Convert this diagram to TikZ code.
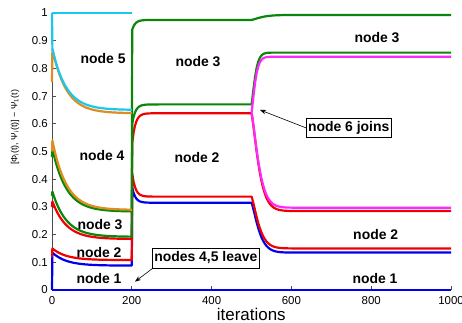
\documentclass[tikz,border=0pt]{standalone}
\usepackage{fontspec}
\setmainfont{Liberation Sans}
\usetikzlibrary{arrows.meta}

\definecolor{trblue}{RGB}{0,0,235}
\definecolor{trred}{RGB}{240,0,0}
\definecolor{trgreen}{RGB}{10,135,10}
\definecolor{trorange}{RGB}{225,140,30}
\definecolor{trcyan}{RGB}{25,200,240}
\definecolor{trmagenta}{RGB}{255,40,255}

\begin{document}
\begin{tikzpicture}[x=0.399bp,y=277bp,
    curve/.style={line width=2.2bp,line join=round},
    axisline/.style={line width=0.7bp,black!70},
    nodelabel/.style={font=\fontsize{14}{16}\selectfont\bfseries,inner sep=0},
    eventbox/.style={draw,fill=white,line width=0.7bp,font=\fontsize{14}{16}\selectfont\bfseries,inner xsep=1.5bp,inner ysep=2.5bp,text height=10.5bp,text depth=4bp},
    callout/.style={line width=0.6bp,-{Stealth[length=6bp,width=4.5bp]}},
    ticklabel/.style={font=\fontsize{11.5}{13}\selectfont,inner sep=0}]
    \pgfmathsetmacro{\taufirst}{35}  % decay before the nodes leave
    \pgfmathsetmacro{\tausecond}{8}  % settling after t=200
    \useasboundingbox (-130.33,-0.1191) rectangle (1027.57,1.0469);

    % axes and ticks
    \draw[axisline] (0,0) -- (0,1);
    \draw[axisline] (0,0) -- (1000,0);
    \foreach \t [count=\k] in {0,200,...,1000} {
        \draw[axisline] (\t,0) -- (\t,0.0144);
        \node[ticklabel] (xtick\k) at (\t,-0.0397) {\t};
    }
    \foreach \v [count=\k] in {0,0.1,0.2,0.3,0.4,0.5,0.6,0.7,0.8,0.9,1} {
        \draw[axisline] (0,\v) -- (10,\v);
        \node[ticklabel,anchor=east] (ytick\k) at (-10,\v) {\v};
    }
    \node[rotate=90,font=\fontsize{9}{11}\selectfont] (ylab) at (-92.7,0.587) {[Φ\textsubscript{i}(t), Ψ\textsubscript{i}(t)] − Ψ\textsubscript{1}(t)};
    \node[font=\fontsize{17}{20}\selectfont,inner sep=1bp] (xlab) at (499.5,-0.0865) {iterations};

    % nodes 1-3: all three phases
    \foreach \col/\vs/\va/\vb/\vc/\vd/\ve/\tc in {
        trblue/0/0.135/0.088/0.37/0.315/0.135/22,
        trred/0.12/0.15/0.108/0.42/0.337/0.150/22,
        trred/0.30/0.32/0.184/0.53/0.638/0.285/22,
        trgreen/0.34/0.355/0.192/0.60/0.670/0.857/11,
        trgreen/0.48/0.51/0.283/0.94/0.975/0.993/30}
        \draw[curve,\col] (0,\vs) -- plot[domain=1:200,samples=60] (\x,{\vb+(\va-\vb)*exp(-(\x-1)/\taufirst)})
            -- plot[domain=201:500,samples=90] (\x,{\vd+(\vc-\vd)*exp(-(\x-201)/\tausecond)})
            -- plot[domain=501:1000,samples=126] (\x,{\vd+(\ve-\vd)*(1-exp(-((\x-500)/\tc)^1.3))});
    % nodes 4 and 5 until they leave
    \foreach \col/\vs/\va/\vb in {trorange/0.50/0.54/0.289, trorange/0.75/0.87/0.638, trcyan/1/0.87/0.650}
        \draw[curve,\col] (0,\vs) -- plot[domain=1:200,samples=60] (\x,{\vb+(\va-\vb)*exp(-(\x-1)/\taufirst)});
    \draw[curve,trcyan] (0,1) -- (200,1);
    % node 6 from t=500
    \foreach \ve/\tc in {0.842/11, 0.297/22}
        \draw[curve,trmagenta] (500,0.64) -- plot[domain=501:1000,samples=126] (\x,{0.64+(\ve-0.64)*(1-exp(-((\x-500)/\tc)^1.3))});
    \draw[curve,trblue] (0,0) -- (1000,0);

    \node[nodelabel] (lab5) at (128,0.834) {node 5};
    \node[nodelabel] (lab4) at (125.3,0.487) {node 4};
    \node[nodelabel] (lab3) at (120.3,0.235) {node 3};
    \node[nodelabel] (lab2) at (117.8,0.135) {node 2};
    \node[nodelabel] (lab1) at (117.8,0.040) {node 1};
    \node[nodelabel] (midlab3) at (365.9,0.823) {node 3};
    \node[nodelabel] (midlab2) at (363.4,0.477) {node 2};
    \node[nodelabel] (endlab3) at (814.5,0.910) {node 3};
    \node[nodelabel] (endlab2) at (811.3,0.202) {node 2};
    \node[nodelabel] (endlab1) at (809.5,0.043) {node 1};

    \node[eventbox] (leave) at (385.5,0.114) {nodes 4,5 leave};
    \coordinate (leavetip) at (208,0.030);
    \draw[callout] (leave.south west) -- (leavetip);
    \node[eventbox] (joins) at (743.6,0.585) {node 6 joins};
    \coordinate (joinstip) at (521.3,0.650);
    \draw[callout] (joins.west) -- (joinstip);
\end{tikzpicture}
\end{document}
